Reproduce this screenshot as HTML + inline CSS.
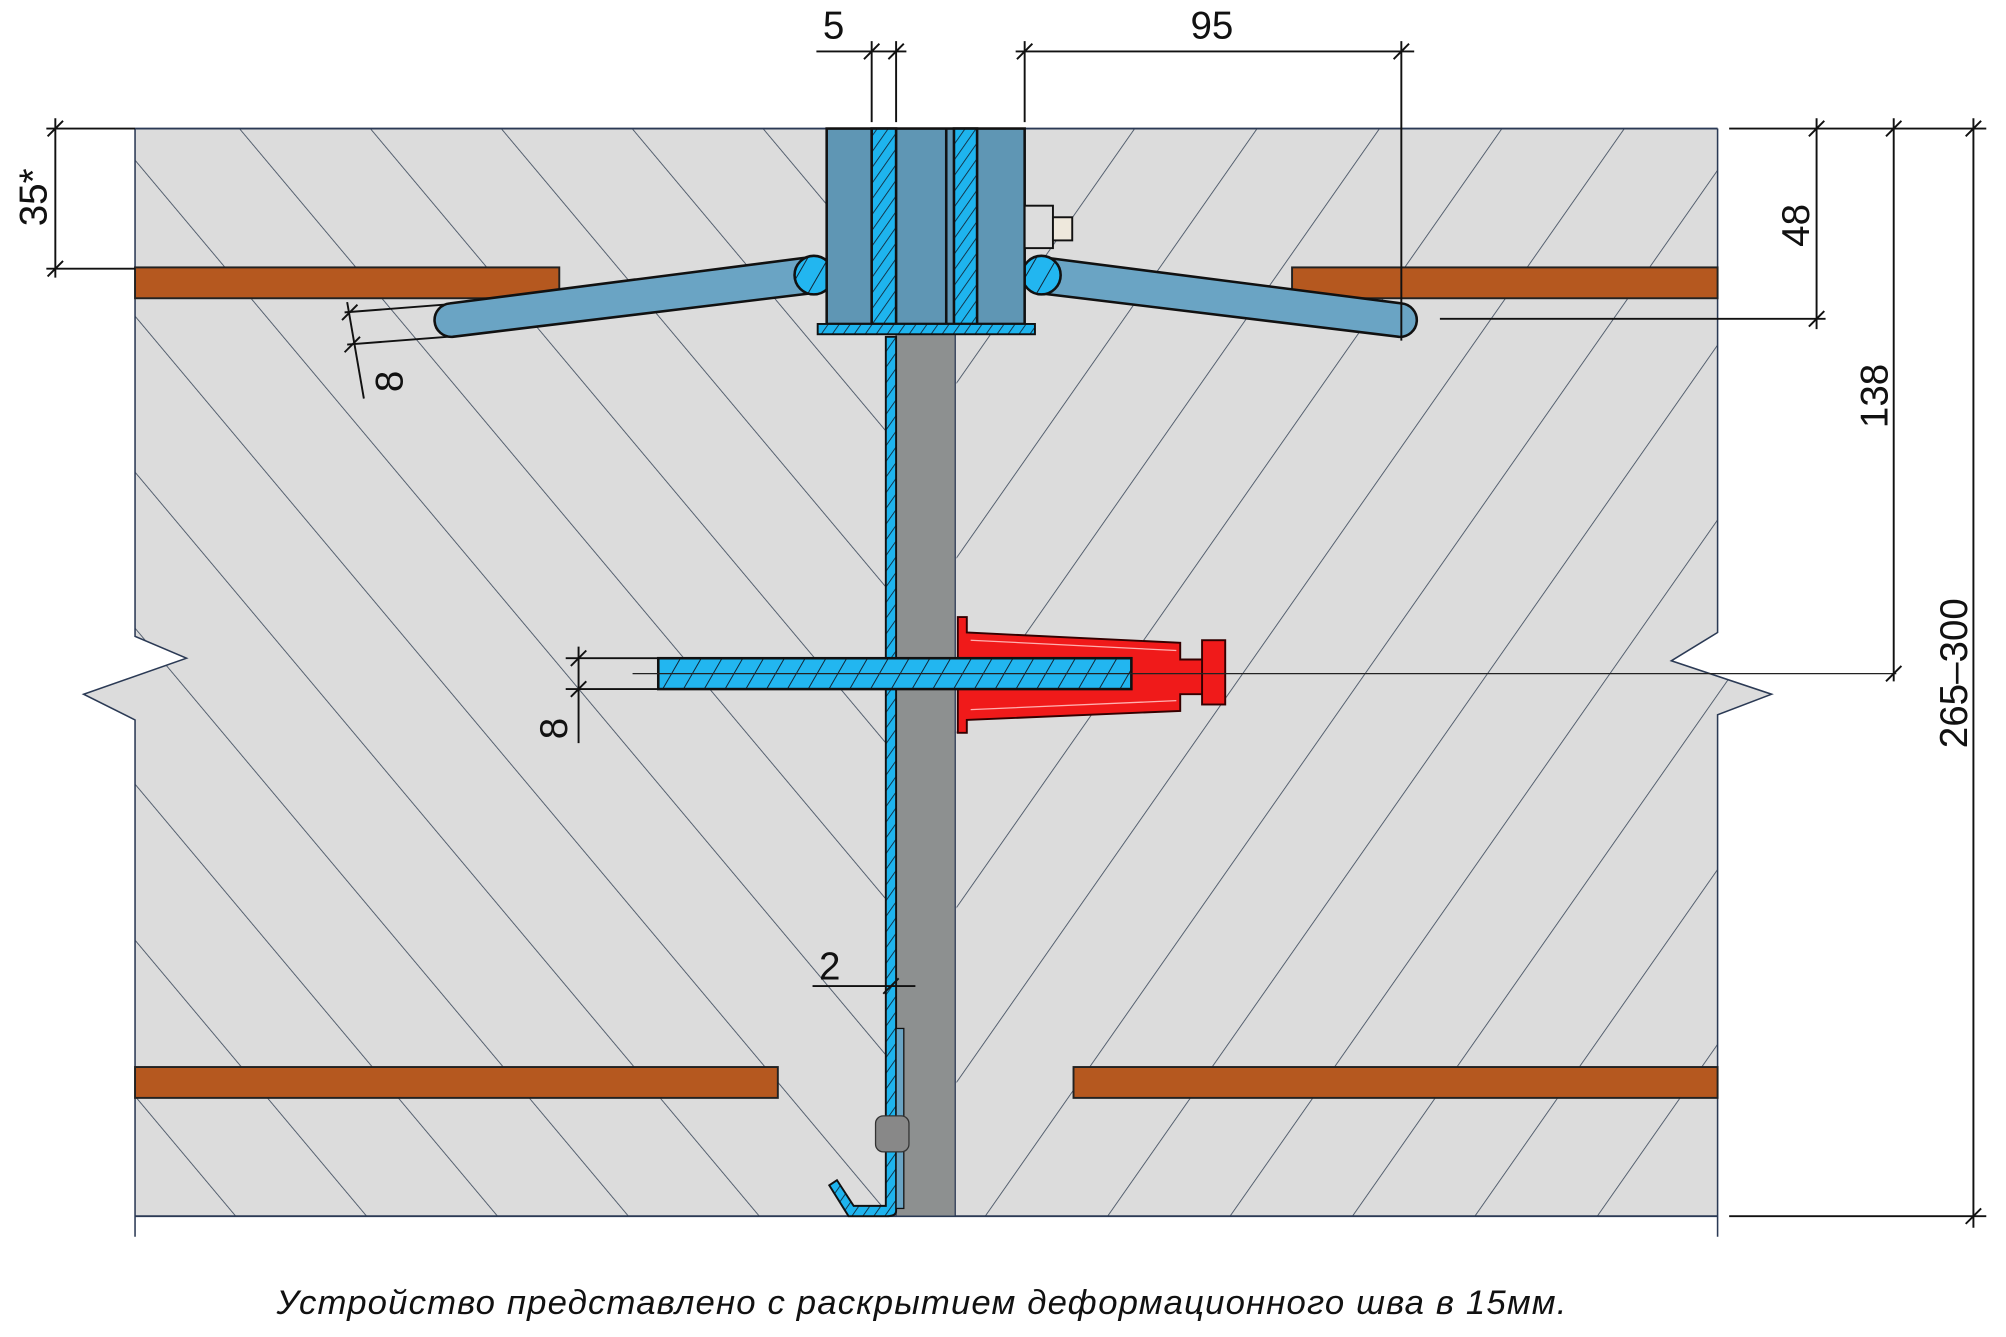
<!DOCTYPE html>
<html><head><meta charset="utf-8"><style>
html,body{margin:0;padding:0;background:#fff;}
svg{display:block;}
text{font-family:"Liberation Sans",sans-serif;}
</style></head><body>
<svg width="2006" height="1337" viewBox="0 0 1560.3 1040" xmlns="http://www.w3.org/2000/svg">
<defs>
<pattern id="hl" width="78" height="78" patternUnits="userSpaceOnUse" patternTransform="rotate(-40)">
<line x1="0" y1="0" x2="0" y2="78" stroke="#3d4a5c" stroke-width="1.3"/></pattern>
<pattern id="hr" width="78" height="78" patternUnits="userSpaceOnUse" patternTransform="rotate(35)">
<line x1="0" y1="0" x2="0" y2="78" stroke="#3d4a5c" stroke-width="1.3"/></pattern>
<pattern id="bh" width="7" height="7" patternUnits="userSpaceOnUse" patternTransform="rotate(35)">
<rect width="7" height="7" fill="#1eb4ee"/><line x1="0" y1="0" x2="0" y2="7" stroke="#102030" stroke-width="1.3"/></pattern>
<pattern id="bh2" width="14" height="14" patternUnits="userSpaceOnUse" patternTransform="rotate(30)">
<rect width="14" height="14" fill="#22b6f0"/><line x1="0" y1="0" x2="0" y2="14" stroke="#102030" stroke-width="1.5"/></pattern>
<clipPath id="cl"><rect x="60" y="100" width="636" height="846"/></clipPath>
<clipPath id="cr"><rect x="744" y="100" width="640" height="846"/></clipPath>
</defs>
<path d="M105,100 H1336 V492 L1300,514 L1378,540 L1336,556 V946 H105 V560 L65,540 L145,512 L105,495 Z" fill="#dcdcdc"/>
<path d="M105,100 H1336 V492 L1300,514 L1378,540 L1336,556 V946 H105 V560 L65,540 L145,512 L105,495 Z" fill="url(#hl)" clip-path="url(#cl)"/>
<path d="M105,100 H1336 V492 L1300,514 L1378,540 L1336,556 V946 H105 V560 L65,540 L145,512 L105,495 Z" fill="url(#hr)" clip-path="url(#cr)"/>
<line x1="105" y1="100" x2="1336" y2="100" stroke="#2b3a55" stroke-width="1.5"/>
<line x1="105" y1="946" x2="1336" y2="946" stroke="#2b3a55" stroke-width="1.5"/>
<path d="M105,100 V495 L145,512 L65,540 L105,560 V962" fill="none" stroke="#2b3a55" stroke-width="1.2"/>
<path d="M1336,100 V492 L1300,514 L1378,540 L1336,556 V962" fill="none" stroke="#2b3a55" stroke-width="1.2"/>
<g fill="#b5581f" stroke="#222" stroke-width="1.5">
<rect x="105" y="208" width="330" height="24"/><rect x="1005" y="208" width="331" height="24"/>
<rect x="105" y="830" width="500" height="24"/><rect x="835" y="830" width="501" height="24"/>
</g>
<g fill="#6aa4c4" stroke="#111" stroke-width="2">
<path d="M630,200 L350,236 A12,12 0 0 0 352,262 L632,228 Z"/>
<path d="M810,200 L1090,236 A12,12 0 0 1 1088,262 L808,228 Z"/>
<circle cx="633" cy="214" r="15" fill="url(#bh2)"/><circle cx="810" cy="214" r="15" fill="url(#bh2)"/>
</g>
<rect x="697" y="252" width="46" height="694" fill="#8d9090" stroke="#2b3a55" stroke-width="1"/>
<path d="M689,262 H697 V942 Q697,946 690,946 H660 L645,922 L651,918 L664,938 H689 Z" fill="url(#bh)" stroke="#111" stroke-width="1.5"/>
<rect x="697" y="800" width="6" height="140" fill="#6aa4c4" stroke="#111"/>
<rect x="681" y="868" width="26" height="28" rx="6" fill="#888" stroke="#333"/>
<g stroke="#111" stroke-width="2">
<rect x="643" y="100" width="154" height="152" fill="#5f96b4"/>
<rect x="678" y="100" width="19" height="152" fill="url(#bh)"/>
<rect x="742" y="100" width="18" height="152" fill="url(#bh)"/>
<line x1="736" y1="100" x2="736" y2="252"/>
<rect x="636" y="252" width="169" height="8" fill="url(#bh)" stroke-width="1.5"/>
<rect x="797" y="160" width="22" height="33" fill="#ddd" stroke-width="1.5"/>
<rect x="819" y="169" width="15" height="18" fill="#eee8dc" stroke-width="1.5"/>
</g>
<g stroke="#300" stroke-width="1.5" fill="#f01a1a">
<path d="M745,480 H752 V492 L918,500 V513 H945 V540 H918 V553 L752,560 V570 H745 Z"/>
<rect x="935" y="498" width="18" height="50"/>
</g>
<path d="M755,498 L915,506 M755,552 L915,545" stroke="#ffb0b0" stroke-width="1" fill="none"/>
<rect x="512" y="512" width="368" height="24" fill="url(#bh2)" stroke="#111" stroke-width="2"/>
<line x1="492" y1="524" x2="1475" y2="524" stroke="#222" stroke-width="1"/>
<g stroke="#111" stroke-width="1.5" fill="none">
<line x1="635" y1="40" x2="705" y2="40"/><line x1="678" y1="32" x2="678" y2="95"/><line x1="697" y1="32" x2="697" y2="95"/>
<line x1="672" y1="46" x2="684" y2="34"/><line x1="691" y1="46" x2="703" y2="34"/>
<line x1="790" y1="40" x2="1100" y2="40"/><line x1="797" y1="32" x2="797" y2="95"/><line x1="1090" y1="32" x2="1090" y2="265"/>
<line x1="791" y1="46" x2="803" y2="34"/><line x1="1084" y1="46" x2="1096" y2="34"/>
<line x1="36" y1="100" x2="105" y2="100"/><line x1="36" y1="209" x2="105" y2="209"/><line x1="43" y1="92" x2="43" y2="216"/>
<line x1="37" y1="106" x2="49" y2="94"/><line x1="37" y1="215" x2="49" y2="203"/>
<line x1="1345" y1="100" x2="1545" y2="100"/><line x1="1120" y1="248" x2="1420" y2="248"/><line x1="1345" y1="946" x2="1545" y2="946"/>
<line x1="1413" y1="92" x2="1413" y2="256"/><line x1="1473" y1="92" x2="1473" y2="530"/><line x1="1535" y1="92" x2="1535" y2="955"/>
<line x1="1407" y1="106" x2="1419" y2="94"/><line x1="1407" y1="254" x2="1419" y2="242"/>
<line x1="1467" y1="106" x2="1479" y2="94"/><line x1="1467" y1="530" x2="1479" y2="518"/>
<line x1="1529" y1="106" x2="1541" y2="94"/><line x1="1529" y1="952" x2="1541" y2="940"/>
<line x1="440" y1="512" x2="512" y2="512"/><line x1="440" y1="536" x2="512" y2="536"/><line x1="450" y1="503" x2="450" y2="578"/>
<line x1="444" y1="518" x2="456" y2="506"/><line x1="444" y1="542" x2="456" y2="530"/>
<line x1="268" y1="243" x2="345" y2="237"/><line x1="270" y1="268" x2="348" y2="262"/><line x1="270" y1="235" x2="283" y2="310"/>
<line x1="266" y1="249" x2="278" y2="237"/><line x1="268" y1="274" x2="280" y2="262"/>
<line x1="632" y1="767" x2="712" y2="767"/><line x1="687" y1="773" x2="699" y2="761"/>
</g>
<g font-size="30" fill="#111">
<text x="640" y="30">5</text><text x="926" y="30">95</text>
<text x="0" y="0" transform="translate(36,176) rotate(-90)">35*</text>
<text x="0" y="0" transform="translate(1407,192) rotate(-90)">48</text>
<text x="0" y="0" transform="translate(1468,333) rotate(-90)">138</text>
<text x="0" y="0" transform="translate(1530,582) rotate(-90)">265–300</text>
<text x="0" y="0" transform="translate(441,575) rotate(-90)">8</text>
<text x="0" y="0" transform="translate(313,305) rotate(-90)">8</text>
<text x="637" y="762">2</text>
</g>
<text x="215" y="1022" font-size="27" font-style="italic" fill="#111" letter-spacing="0.9">Устройство представлено с раскрытием деформационного шва в 15мм.</text>
</svg>
</body></html>
